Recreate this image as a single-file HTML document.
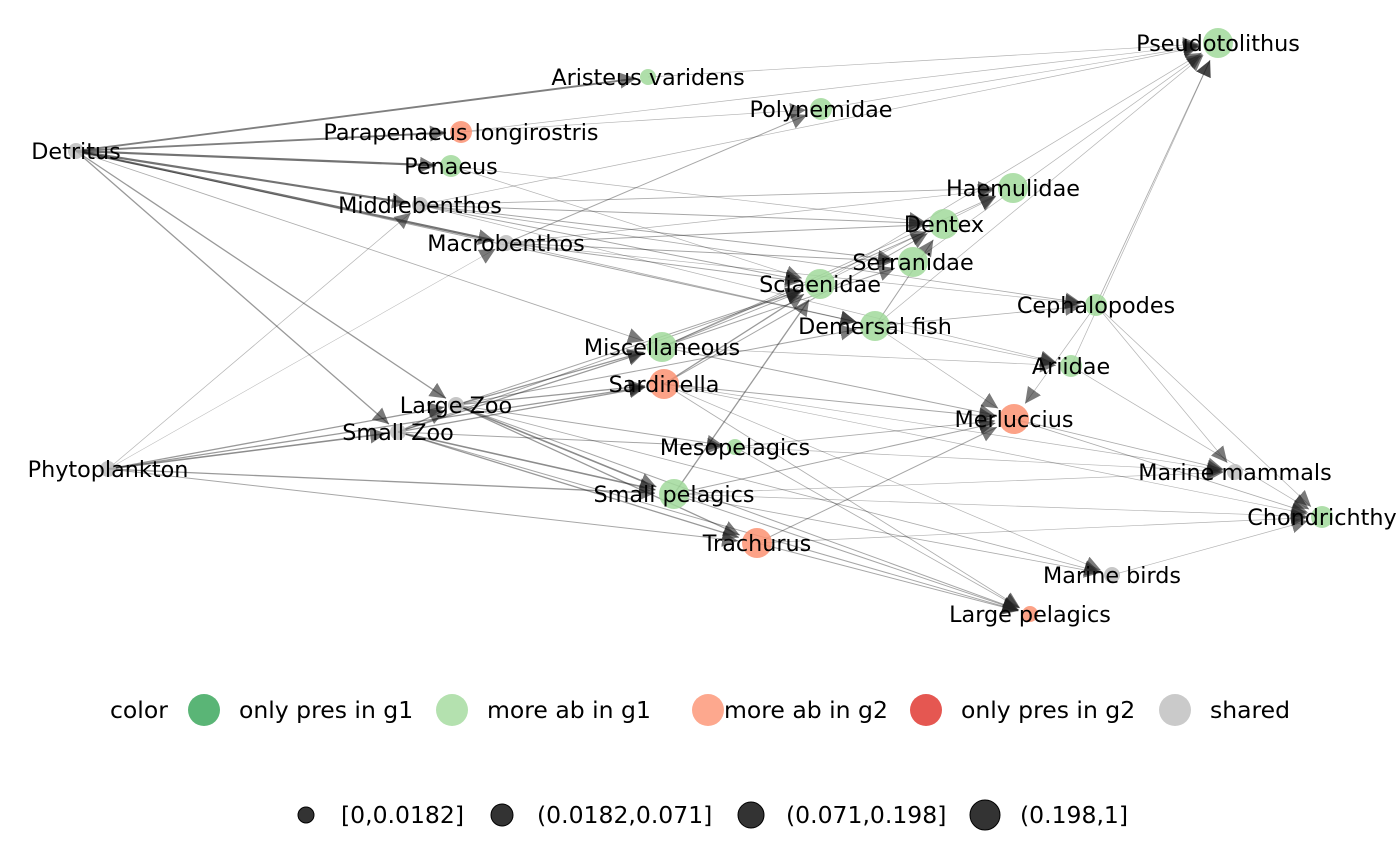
<!DOCTYPE html>
<html><head><meta charset="utf-8"><style>
html,body{margin:0;padding:0;background:#fff}
svg{display:block;font-family:"DejaVu Sans","Liberation Sans",sans-serif}
</style></head><body>
<svg id="chart" width="1400" height="866" viewBox="0 0 1400 866">
<defs>
<marker id="arrB" viewBox="0 0 10 10" refX="10" refY="5" markerWidth="16" markerHeight="16" markerUnits="userSpaceOnUse" orient="auto"><path d="M0,0 L10,5 L0,10z" fill="#222" fill-opacity="0.6"/></marker></defs>
<g id="edges"></g>
<g id="nodes"></g>
<g id="labels"></g>
<g font-size="23.5">
<text x="110" y="718">color</text>
<circle cx="204" cy="710" r="16" fill="#31a354" fill-opacity="0.8"/>
<text x="239" y="718">only pres in g1</text>
<circle cx="452" cy="710" r="16" fill="#a1d99b" fill-opacity="0.8"/>
<text x="487" y="718">more ab in g1</text>
<circle cx="708" cy="710" r="16" fill="#fc9272" fill-opacity="0.8"/>
<text x="724" y="718">more ab in g2</text>
<circle cx="926" cy="710" r="16" fill="#de2d26" fill-opacity="0.8"/>
<text x="961" y="718">only pres in g2</text>
<circle cx="1175" cy="710" r="16" fill="#bdbdbd" fill-opacity="0.8"/>
<text x="1210" y="718">shared</text>
</g>
<g font-size="23.5" fill="#000">
<circle cx="306" cy="815" r="8" fill="#333" stroke="#000"/>
<text x="341" y="823">[0,0.0182]</text>
<circle cx="502" cy="815" r="11" fill="#333" stroke="#000"/>
<text x="537" y="823">(0.0182,0.071]</text>
<circle cx="751" cy="815" r="13" fill="#333" stroke="#000"/>
<text x="786" y="823">(0.071,0.198]</text>
<circle cx="985" cy="815" r="15" fill="#333" stroke="#000"/>
<text x="1020" y="823">(0.198,1]</text>
</g>
</svg>
<script>
const nodeNames=["Detritus","Aristeus varidens","Pseudotolithus","Polynemidae","Parapenaeus longirostris","Penaeus","Middlebenthos","Macrobenthos","Haemulidae","Dentex","Serranidae","Sciaenidae","Cephalopodes","Demersal fish","Miscellaneous","Sardinella","Ariidae","Large Zoo","Small Zoo","Merluccius","Mesopelagics","Phytoplankton","Marine mammals","Small pelagics","Chondrichthy","Trachurus","Marine birds","Large pelagics"];
const nodeX=[76,648,1218,821,461,451,420,506,1013,944,913,820,1096,875,662,664,1071,456,398,1014,735,108,1235,674,1322,757,1112,1030];
const nodeY=[151,77,43,109,132,166,205,243,188,224,262,284,305,326,347,384,366,405,432,419,447,469,472,494,517,543,575,614];
const nodeSize=[1,1,3,2,2,2,1,1,3,3,3,3,2,3,3,3,2,1,1,3,1,1,1,3,2,3,1,1];
const nodeGroup=["s","m1","m1","m1","m2","m1","s","s","m1","m1","m1","m1","m1","m1","m1","m2","m1","s","s","m2","m1","s","s","m1","m1","m2","s","m2"];
const edgeSrc=["Detritus","Detritus","Detritus","Detritus","Detritus","Detritus","Detritus","Detritus","Detritus","Phytoplankton","Phytoplankton","Phytoplankton","Phytoplankton","Phytoplankton","Phytoplankton","Phytoplankton","Small Zoo","Small Zoo","Small Zoo","Small Zoo","Small Zoo","Small Zoo","Small Zoo","Small Zoo","Large Zoo","Large Zoo","Large Zoo","Large Zoo","Large Zoo","Large Zoo","Large Zoo","Large Zoo","Large Zoo","Middlebenthos","Middlebenthos","Middlebenthos","Middlebenthos","Middlebenthos","Middlebenthos","Middlebenthos","Macrobenthos","Macrobenthos","Macrobenthos","Macrobenthos","Macrobenthos","Macrobenthos","Macrobenthos","Miscellaneous","Miscellaneous","Miscellaneous","Miscellaneous","Miscellaneous","Miscellaneous","Sardinella","Sardinella","Sardinella","Sardinella","Sardinella","Sardinella","Sardinella","Small pelagics","Small pelagics","Small pelagics","Small pelagics","Small pelagics","Small pelagics","Trachurus","Trachurus","Trachurus","Mesopelagics","Mesopelagics","Mesopelagics","Demersal fish","Demersal fish","Demersal fish","Demersal fish","Demersal fish","Cephalopodes","Cephalopodes","Cephalopodes","Cephalopodes","Merluccius","Merluccius","Ariidae","Ariidae","Serranidae","Sciaenidae","Sciaenidae","Penaeus","Penaeus","Parapenaeus longirostris","Parapenaeus longirostris","Aristeus varidens","Marine birds","Polynemidae"];
const edgeTgt=["Aristeus varidens","Parapenaeus longirostris","Penaeus","Middlebenthos","Macrobenthos","Large Zoo","Small Zoo","Demersal fish","Miscellaneous","Small Zoo","Large Zoo","Middlebenthos","Macrobenthos","Small pelagics","Trachurus","Sardinella","Large Zoo","Sardinella","Small pelagics","Miscellaneous","Mesopelagics","Trachurus","Sciaenidae","Large pelagics","Sardinella","Small pelagics","Miscellaneous","Trachurus","Mesopelagics","Sciaenidae","Demersal fish","Marine birds","Large pelagics","Dentex","Haemulidae","Serranidae","Sciaenidae","Cephalopodes","Pseudotolithus","Ariidae","Polynemidae","Sciaenidae","Dentex","Serranidae","Haemulidae","Cephalopodes","Demersal fish","Dentex","Haemulidae","Sciaenidae","Serranidae","Merluccius","Ariidae","Sciaenidae","Dentex","Merluccius","Large pelagics","Marine birds","Marine mammals","Chondrichthy","Sciaenidae","Merluccius","Large pelagics","Marine birds","Marine mammals","Chondrichthy","Merluccius","Large pelagics","Chondrichthy","Merluccius","Large pelagics","Marine mammals","Dentex","Pseudotolithus","Cephalopodes","Ariidae","Merluccius","Pseudotolithus","Marine mammals","Chondrichthy","Merluccius","Marine mammals","Chondrichthy","Pseudotolithus","Chondrichthy","Pseudotolithus","Pseudotolithus","Haemulidae","Dentex","Sciaenidae","Polynemidae","Pseudotolithus","Pseudotolithus","Chondrichthy","Pseudotolithus"];
const edgeW=[0.5,0.5,0.6,0.6,0.6,0.3,0.3,0.2,0.15,0.4,0.3,0.1,0.05,0.3,0.2,0.3,0.3,0.3,0.4,0.3,0.2,0.3,0.2,0.2,0.3,0.4,0.3,0.3,0.2,0.2,0.2,0.15,0.2,0.2,0.15,0.2,0.2,0.15,0.1,0.1,0.2,0.2,0.2,0.2,0.1,0.1,0.15,0.2,0.15,0.2,0.2,0.2,0.1,0.3,0.2,0.2,0.15,0.1,0.1,0.1,0.3,0.2,0.2,0.15,0.1,0.1,0.2,0.2,0.1,0.15,0.15,0.1,0.2,0.1,0.15,0.1,0.1,0.15,0.1,0.1,0.1,0.15,0.15,0.1,0.1,0.1,0.1,0.1,0.1,0.1,0.1,0.1,0.1,0.1,0.1];
const colorMap={s:"#bdbdbd",m1:"#a1d99b",m2:"#fc9272",o1:"#31a354",o2:"#de2d26"};
const radius=s=>[0,8,11,15][s];
const NS="http://www.w3.org/2000/svg";
const eg=document.getElementById("edges"),ng=document.getElementById("nodes"),lg=document.getElementById("labels");
const idx=n=>nodeNames.indexOf(n);
edgeSrc.forEach((s,i)=>{
  const a=idx(s),b=idx(edgeTgt[i]);if(a<0||b<0)return;
  const x1=nodeX[a],y1=nodeY[a],x2=nodeX[b],y2=nodeY[b];
  const d=Math.hypot(x2-x1,y2-y1),r=radius(nodeSize[b])+4;
  const ex=x2-(x2-x1)*r/d,ey=y2-(y2-y1)*r/d;
  const l=document.createElementNS(NS,"line");
  l.setAttribute("x1",x1);l.setAttribute("y1",y1);l.setAttribute("x2",ex);l.setAttribute("y2",ey);
  const w=edgeW[i];
  l.setAttribute("stroke","#000");l.setAttribute("stroke-opacity",0.25+w*0.5);
  l.setAttribute("stroke-width",0.4+w*3);
  l.setAttribute("marker-end","url(#arrB)");
  
  
  eg.appendChild(l);
});
nodeNames.forEach((n,i)=>{
  const c=document.createElementNS(NS,"circle");
  c.setAttribute("cx",nodeX[i]);c.setAttribute("cy",nodeY[i]);c.setAttribute("r",radius(nodeSize[i]));
  c.setAttribute("fill",colorMap[nodeGroup[i]]);c.setAttribute("fill-opacity","0.85");
  
  
  ng.appendChild(c);
  const t=document.createElementNS(NS,"text");
  t.setAttribute("x",nodeX[i]);t.setAttribute("y",nodeY[i]+8);t.setAttribute("text-anchor","middle");
  t.setAttribute("font-size","22.3");t.textContent=n;
  
  
  lg.appendChild(t);
});
</script>
</body></html>
